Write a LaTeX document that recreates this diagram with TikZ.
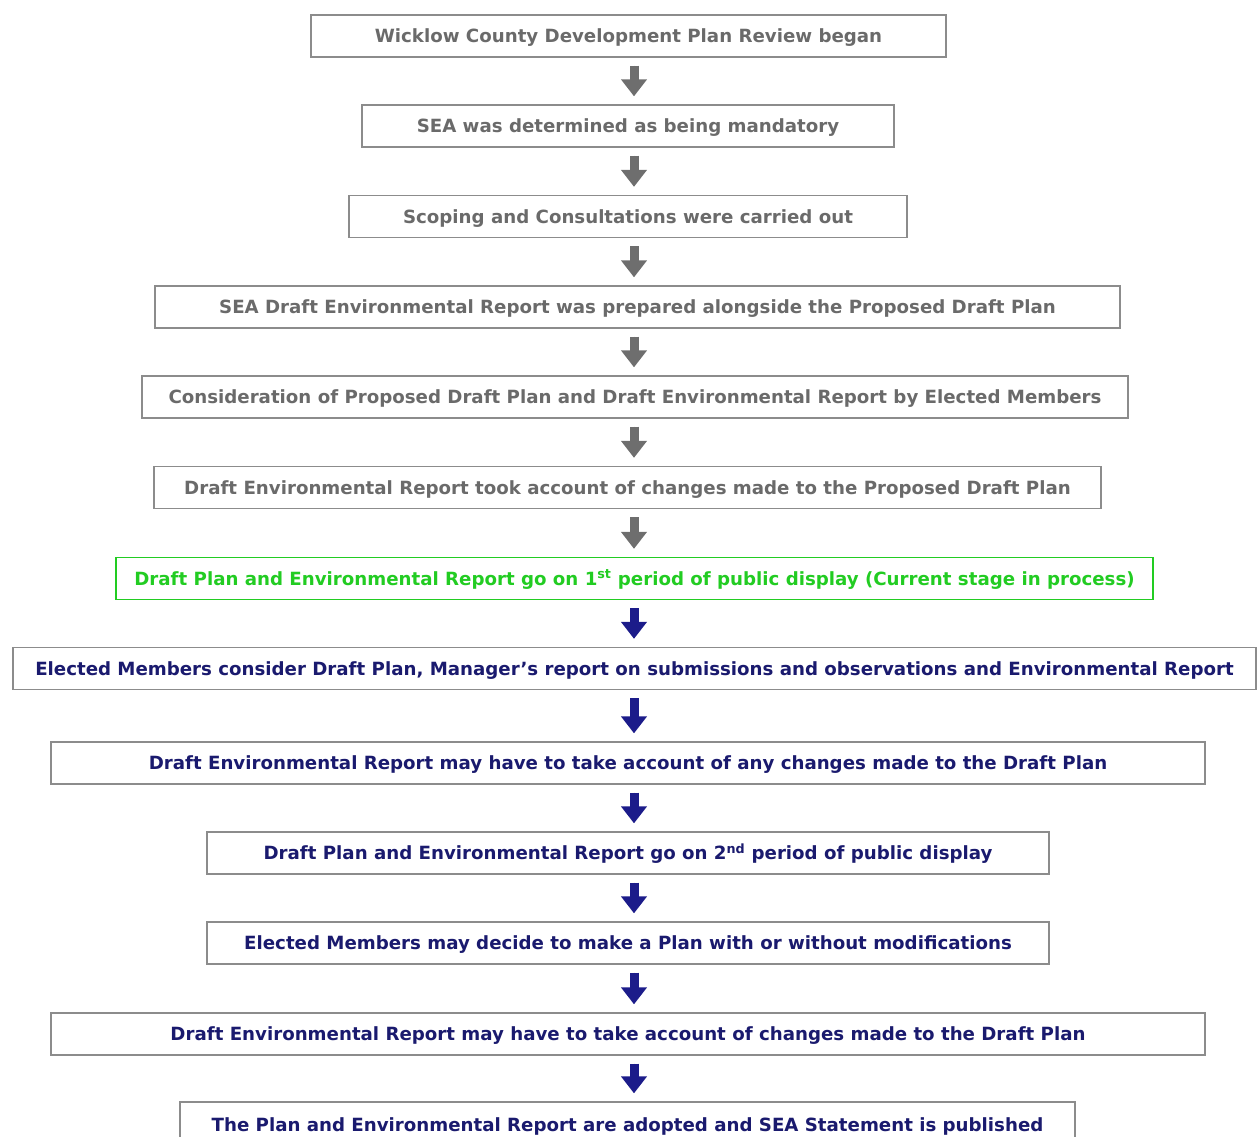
\documentclass[tikz,border=0pt]{standalone}
\usepackage{fontspec}
\setmainfont{DejaVu Sans}
\usetikzlibrary{arrows.meta}
\definecolor{gtext}{HTML}{6A6A6A}
\definecolor{gbord}{HTML}{8C8C8C}
\definecolor{garrc}{HTML}{6E6E6E}
\definecolor{grn}{HTML}{22CC22}
\definecolor{ntext}{HTML}{1A1A6E}
\definecolor{narrc}{HTML}{1C1C8A}
\begin{document}
\begin{tikzpicture}[x=1pt,y=-1pt,
  basebox/.style={draw=gbord, line width=1.3pt, fill=white, minimum height=42pt, inner sep=0pt,
    text height=13.5pt, text depth=0pt,
    font=\bfseries\fontsize{18.2}{21}\selectfont},
  gbox/.style={basebox, text=gtext},
  grbox/.style={basebox, draw=grn, text=grn},
  nbox/.style={basebox, text=ntext},
  arrbase/.style={line width=9pt, shorten <=8pt, shorten >=8pt, -{Triangle[width=25pt,length=17pt]}},
  garr/.style={arrbase, draw=garrc, fill=garrc},
  narr/.style={arrbase, draw=narrc, fill=narrc}]
\useasboundingbox (0,0) rectangle (1259,1137);
\clip (0,0) rectangle (1259,1137);
\coordinate (ax) at (634,0);
\node[gbox, minimum width=635pt] (n1) at (628.5,36) {Wicklow County Development Plan Review began};
\node[gbox, minimum width=532pt] (n2) at (628,126) {SEA was determined as being mandatory};
\node[gbox, minimum width=558pt] (n3) at (628,216.5) {Scoping and Consultations were carried out};
\node[gbox, minimum width=965pt] (n4) at (637.5,307) {SEA Draft Environmental Report was prepared alongside the Proposed Draft Plan};
\node[gbox, minimum width=986pt] (n5) at (635,397) {Consideration of Proposed Draft Plan and Draft Environmental Report by Elected Members};
\node[gbox, minimum width=947pt] (n6) at (627.5,487.5) {Draft Environmental Report took account of changes made to the Proposed Draft Plan};
\node[grbox, minimum width=1037pt] (n7) at (634.5,578.5) {Draft Plan and Environmental Report go on 1\textsuperscript{st} period of public display (Current stage in process)};
\node[nbox, minimum width=1243pt] (n8) at (634.5,668.5) {Elected Members consider Draft Plan, Manager’s report on submissions and observations and Environmental Report};
\node[nbox, minimum width=1154pt] (n9) at (628,763) {Draft Environmental Report may have to take account of any changes made to the Draft Plan};
\node[nbox, minimum width=842pt] (n10) at (628,853) {Draft Plan and Environmental Report go on 2\textsuperscript{nd} period of public display};
\node[nbox, minimum width=842pt] (n11) at (628,943) {Elected Members may decide to make a Plan with or without modifications};
\node[nbox, minimum width=1154pt] (n12) at (628,1034) {Draft Environmental Report may have to take account of changes made to the Draft Plan};
\node[nbox, minimum width=895pt, minimum height=46pt] (n13) at (627.5,1125) {The Plan and Environmental Report are adopted and SEA Statement is published};
\draw[garr] (n1.south -| ax) -- (n2.north -| ax);
\draw[garr] (n2.south -| ax) -- (n3.north -| ax);
\draw[garr] (n3.south -| ax) -- (n4.north -| ax);
\draw[garr] (n4.south -| ax) -- (n5.north -| ax);
\draw[garr] (n5.south -| ax) -- (n6.north -| ax);
\draw[garr] (n6.south -| ax) -- (n7.north -| ax);
\draw[narr] (n7.south -| ax) -- (n8.north -| ax);
\draw[narr] (n8.south -| ax) -- (n9.north -| ax);
\draw[narr] (n9.south -| ax) -- (n10.north -| ax);
\draw[narr] (n10.south -| ax) -- (n11.north -| ax);
\draw[narr] (n11.south -| ax) -- (n12.north -| ax);
\draw[narr] (n12.south -| ax) -- (n13.north -| ax);
\end{tikzpicture}
\end{document}
